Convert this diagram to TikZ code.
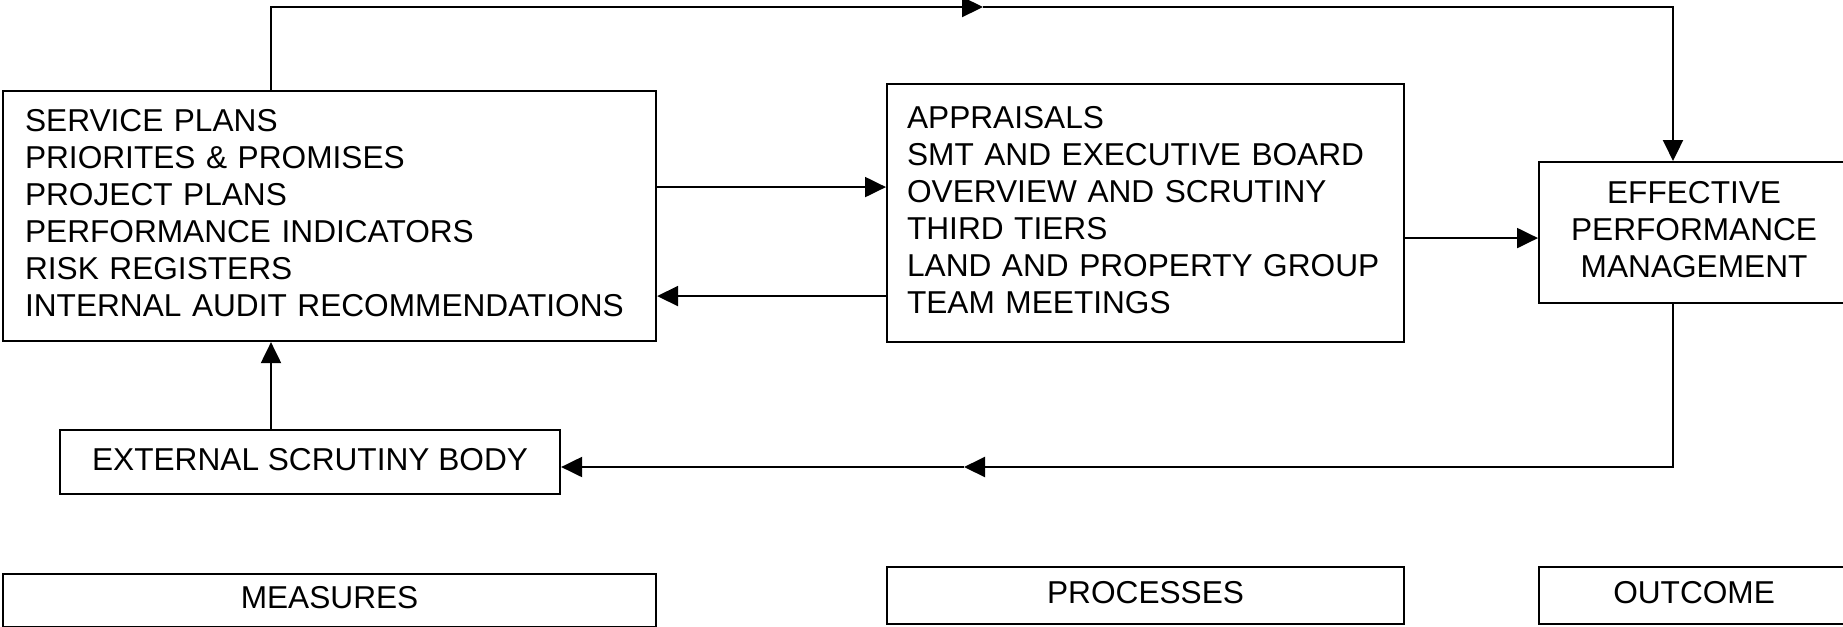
\documentclass[tikz,border=0pt]{standalone}
\usepackage{fontspec}
\setmainfont{Liberation Sans}
\usetikzlibrary{arrows.meta,positioning}
\definecolor{ink}{RGB}{0,0,0}
\tikzset{
  every picture/.style={color=ink, line width=0.6pt},
  box/.style={draw=ink, fill=white, inner xsep=2.2mm, inner ysep=0.5mm, font=\fontsize{9}{10.5}\selectfont,
    execute at end node={\rule[-0.6mm]{0pt}{0pt}}},
  listbox/.style={box, align=left},
  tagbox/.style={box, align=center},
  flow/.style={-{Triangle[length=2.1mm,width=2mm]}, line width=0.6pt},
}

\begin{document}
\begin{tikzpicture}[x=1mm,y=1mm]
  \useasboundingbox (0,0) rectangle (184.3,-62.6);
  % upper row
  \node[listbox, text width=60.9mm, minimum height=25mm, anchor=north west] (plans) at (0.2,-9.0) {SERVICE PLANS\\PRIORITES \& PROMISES\\PROJECT PLANS\\PERFORMANCE INDICATORS\\RISK REGISTERS\\INTERNAL AUDIT RECOMMENDATIONS};
  \node[listbox, inner xsep=2mm, text width=47.7mm, minimum height=25.8mm, anchor=north west] (reviews) at (88.6,-8.3) {APPRAISALS\\SMT AND EXECUTIVE BOARD\\OVERVIEW AND SCRUTINY\\THIRD TIERS\\LAND AND PROPERTY GROUP\\TEAM MEETINGS};
  \node[tagbox, inner xsep=1mm, text width=29mm, minimum height=14.1mm, anchor=north west] (effective) at (153.8,-16.1) {EFFECTIVE\\PERFORMANCE\\MANAGEMENT};
  \node[tagbox, minimum width=50mm, minimum height=6.4mm, anchor=north west] (external) at (5.9,-42.9) {EXTERNAL SCRUTINY BODY};
  % column headings
  \node[tagbox, minimum width=65.3mm, minimum height=5.3mm, below=23.1mm of plans] (measures) {MEASURES};
  \node[tagbox, minimum width=51.7mm, minimum height=5.7mm, below=22.3mm of reviews] (processes) {PROCESSES};
  \node[tagbox, minimum width=31mm, minimum height=5.7mm, below=26.2mm of effective] (outcome) {OUTCOME};
  % loop points
  \coordinate (upL) at (27.1,-0.7);
  \coordinate (upMid) at (98.3,-0.7);
  \coordinate (upR) at (167.3,-0.7);
  \coordinate (loR) at (167.3,-46.7);
  \coordinate (loMid) at (96.4,-46.7);
  \coordinate (fwdA) at ([yshift=2.9mm]plans.east);
  \coordinate (backA) at ([yshift=-8mm]plans.east);
  \coordinate (intoC) at ([yshift=-0.55mm]effective.west);
  \draw[flow] (upL |- plans.north) -- (upL) -- (upMid);
  \draw[flow] (upMid) -- (upR) -- (upR |- effective.north);
  \draw[flow] (fwdA) -- (fwdA -| reviews.west);
  \draw[flow] (backA -| reviews.west) -- (backA);
  \draw[flow] (intoC -| reviews.east) -- (intoC);
  \draw[flow] (loR |- effective.south) -- (loR) -- (loMid);
  \draw[flow] (loMid) -- (loR -| external.east);
  \draw[flow] (upL |- external.north) -- (upL |- plans.south);
\end{tikzpicture}
\end{document}
